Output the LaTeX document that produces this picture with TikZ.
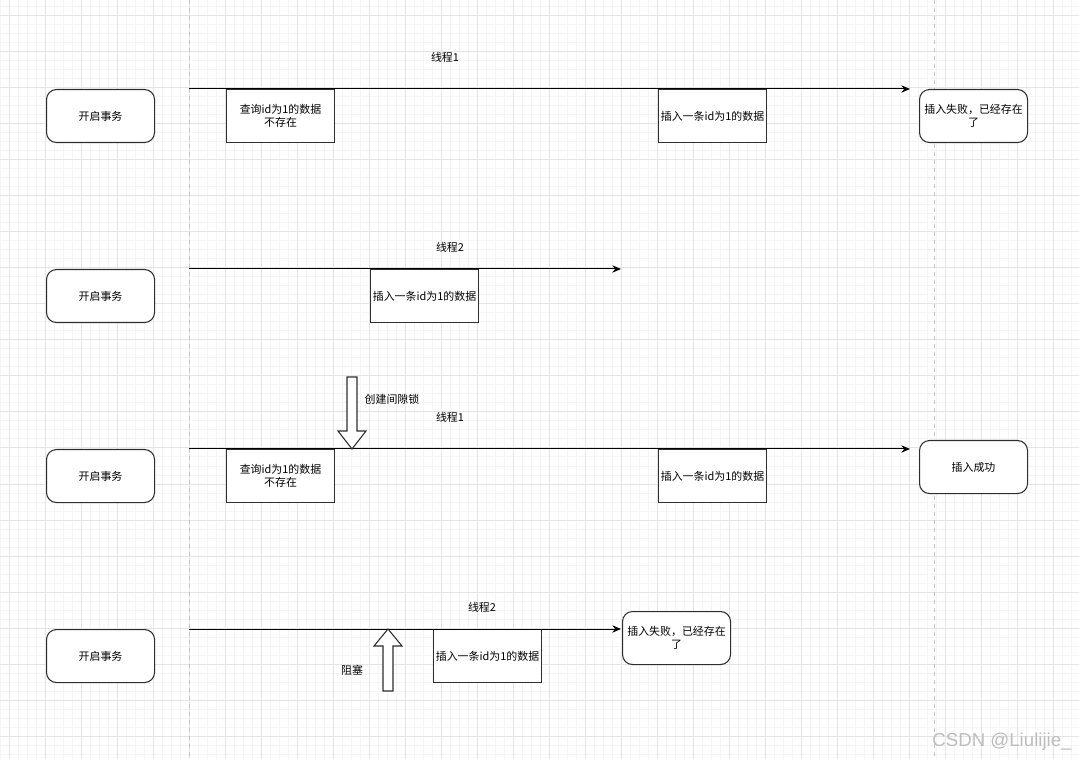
\documentclass[tikz,border=0pt]{standalone}
\usepackage{fontspec}
\newfontfamily\cjk{Noto Sans CJK SC}
\newfontfamily\wmfont{Liberation Sans}
\usetikzlibrary{arrows.meta}
\definecolor{gridminor}{HTML}{F5F5F5}
\definecolor{gridmajor}{HTML}{E4E4E4}
\definecolor{edgec}{HTML}{2E2E2E}
\definecolor{dashc}{HTML}{C4C4C4}
\definecolor{wmc}{HTML}{BDBDBD}
\begin{document}
\begin{tikzpicture}[x=0.75pt,y=-0.75pt,
  txt/.style={font=\cjk\fontsize{8.2}{9.8}\selectfont, inner sep=0pt, align=center},
  rbox/.style={txt, draw=edgec, fill=white, line width=0.8pt, rounded corners=7.5pt, minimum width=81pt, minimum height=39.75pt, anchor=north west},
  sbox/.style={txt, draw=edgec, fill=white, line width=0.8pt, minimum width=81pt, minimum height=39.75pt, anchor=north west},
  tline/.style={draw=black, line width=0.75pt, -{Stealth[length=6.5pt,width=5.5pt]}},
  blockarrow/.style={draw=edgec, line width=0.8pt, fill=white},
  lbl/.style={txt},
  gminor/.style={draw=gridminor, line width=0.75pt},
  gmajor/.style={draw=gridmajor, line width=0.75pt},
  guide/.style={draw=dashc, line width=0.75pt, dash pattern=on 3pt off 3pt}]
\useasboundingbox (0,0) rectangle (1079,759);
\fill[white] (0,0) rectangle (1079,759);
% grid
\foreach \i in {0,...,119} { \draw[gminor] (9*\i,0) -- (9*\i,759); }
\foreach \i in {0,...,83} { \draw[gminor] (0,7+9*\i) -- (1079,7+9*\i); }
\foreach \i in {0,...,29} { \draw[gmajor] (9+36*\i,0) -- (9+36*\i,759); }
\foreach \i in {0,...,20} { \draw[gmajor] (0,16+36*\i) -- (1079,16+36*\i); }
% guides
\draw[guide] (189.5,0) -- (189.5,759);
\draw[guide] (934,0) -- (934,759);

% row 1
\node[rbox] (s1) at (46,89) {开启事务};
\node[sbox] (q1) at (226,89) {查询id为1的数据\\不存在};
\node[sbox] (i1) at (658,89) {插入一条id为1的数据};
\node[rbox] (f1) at (919,89) {插入失败，已经存在\\了};
\coordinate (a1) at (189,89);
\coordinate (e1) at (910,89);
\draw[tline] (a1) -- (e1);
\node[lbl] (t1) at (445,57) {线程1};

% row 2
\node[rbox] (s2) at (46,269) {开启事务};
\node[sbox] (i2) at (370,269) {插入一条id为1的数据};
\coordinate (a2) at (189,269);
\coordinate (e2) at (621,269);
\draw[tline] (a2) -- (e2);
\node[lbl] (t2) at (450,247) {线程2};

% row 3
\node[rbox] (s3) at (46,449) {开启事务};
\node[sbox] (q3) at (226,449) {查询id为1的数据\\不存在};
\node[sbox] (i3) at (658,449) {插入一条id为1的数据};
\node[rbox] (f3) at (919,440) {插入成功};
\coordinate (a3) at (189,449);
\coordinate (e3) at (910,449);
\draw[tline] (a3) -- (e3);
\node[lbl] (t3) at (450,417) {线程1};
\node[lbl] (lock) at (392,399) {创建间隙锁};
\draw[blockarrow] (347,377) -- (357,377) -- (357,431) -- (366,431) -- (352,449) -- (338,431) -- (347,431) -- cycle;

% row 4
\node[rbox] (s4) at (46,629) {开启事务};
\node[sbox] (i4) at (433,629) {插入一条id为1的数据};
\node[rbox] (f4) at (622,611) {插入失败，已经存在\\了};
\coordinate (a4) at (189,629);
\coordinate (e4) at (621,629);
\draw[tline] (a4) -- (e4);
\node[lbl] (t4) at (482,607) {线程2};
\node[lbl] (blk) at (352,670) {阻塞};
\draw[blockarrow] (388,629) -- (402,646) -- (393,646) -- (393,691) -- (383,691) -- (383,646) -- (374,646) -- cycle;

% watermark
\node[font=\wmfont\fontsize{14}{16}\selectfont, text=wmc, inner sep=0pt] (wm) at (1002,742) {CSDN @Liulijie\_};
\end{tikzpicture}
\end{document}
